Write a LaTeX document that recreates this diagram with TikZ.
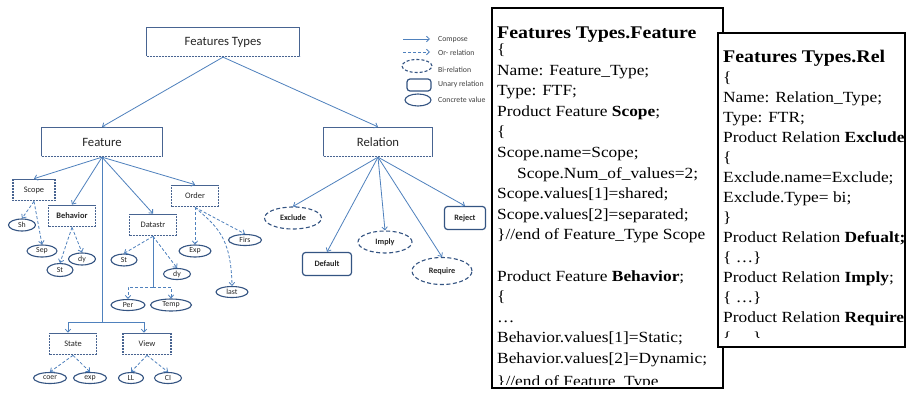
\documentclass[tikz,border=0pt]{standalone}
\usepackage{fontspec}
\setmainfont{Liberation Serif}
\newfontfamily\carl{Carlito}
\newfontfamily\tnr[FakeStretch=1.12]{Liberation Serif}
\usetikzlibrary{arrows.meta,shapes.geometric}
\definecolor{arr}{RGB}{79,129,189}
\definecolor{edge}{RGB}{52,84,130}
\definecolor{boxedge}{RGB}{72,100,145}
\begin{document}
\begin{tikzpicture}[x=1pt,y=-1pt,
  bigbox/.style={draw=boxedge, dash pattern=on 1.2pt off 0.3pt, line width=1.3pt, fill=white,
    minimum height=29pt, inner sep=0pt, font=\carl\fontsize{12.7}{14}\selectfont, text=black!85},
  smallbox/.style={draw=boxedge, dash pattern=on 1.2pt off 0.3pt, line width=1.2pt, fill=white,
    minimum height=21.5pt, inner sep=0pt, font=\carl\fontsize{8.4}{9}\selectfont, text=black!85},
  val/.style={ellipse, draw=edge, line width=1.1pt, fill=white, inner sep=0pt,
    font=\carl\fontsize{7.8}{8}\selectfont, text=black!85},
  bival/.style={ellipse, draw=edge, dash pattern=on 4pt off 2.5pt, line width=1.1pt, fill=white, inner sep=0pt,
    font=\carl\bfseries\fontsize{8.2}{9}\selectfont, text=black!85},
  unary/.style={rectangle, rounded corners=3pt, draw=edge, line width=1.2pt, fill=white, inner sep=0pt,
    font=\carl\bfseries\fontsize{8.2}{9}\selectfont, text=black!85},
  comp/.style={draw=arr, line width=0.8pt, -{Straight Barb[length=3pt,width=5.5pt]}},
  orrel/.style={comp, dash pattern=on 3pt off 2pt},
  plainline/.style={draw=arr, line width=0.8pt},
  legtext/.style={anchor=west, inner sep=0pt, font=\carl\fontsize{7.8}{8}\selectfont, text=black!75},
  code/.style={anchor=base west, inner sep=0pt, font=\tnr\fontsize{15.5}{18}\selectfont},
  codetitle/.style={anchor=base west, inner sep=0pt, font=\tnr\bfseries\fontsize{17.8}{20}\selectfont},
  frame/.style={draw=black, line width=1.5pt, fill=white}
]
\useasboundingbox (0,0) rectangle (915,396);
\fill[white] (0,0) rectangle (915,396);

% ---------------- tree ----------------
\node[bigbox, minimum width=153pt] (ft) at (223,42) {Features Types};
\node[bigbox, minimum width=121pt] (feat) at (102,142) {Feature};
\node[bigbox, minimum width=109pt] (rel) at (378,142) {Relation};

\node[smallbox, minimum width=42pt] (scope) at (34,190) {Scope};
\node[smallbox, minimum width=47pt] (order) at (195,196) {Order};
\node[smallbox, minimum width=47pt, font=\carl\bfseries\fontsize{8.4}{9}\selectfont] (behav) at (72,216) {Behavior};
\node[smallbox, minimum width=47pt] (datastr) at (153,225) {Datastr};
\node[smallbox, minimum width=47pt] (state) at (73,344) {State};
\node[smallbox, minimum width=48pt] (view) at (147,344) {View};

\node[val, minimum width=27pt, minimum height=12pt] (sh) at (22,225) {Sh};
\node[val, minimum width=30pt, minimum height=12pt] (sep) at (42,251) {Sep};
\node[val, minimum width=26pt, minimum height=13pt] (st1) at (60,270) {St};
\node[val, minimum width=27pt, minimum height=12pt] (dy1) at (82,259) {dy};
\node[val, minimum width=26pt, minimum height=12pt] (st2) at (124,260) {St};
\node[val, minimum width=27pt, minimum height=11pt] (dy2) at (177,274) {dy};
\node[val, minimum width=34pt, minimum height=11pt] (per) at (128,305) {Per};
\node[val, minimum width=41pt, minimum height=12pt] (temp) at (171,305) {Temp};
\node[val, minimum width=32pt, minimum height=12pt] (exp) at (195,251) {Exp};
\node[val, minimum width=33pt, minimum height=11pt] (firs) at (245,240) {Firs};
\node[val, minimum width=32pt, minimum height=11pt] (last) at (232,292) {last};
\node[val, minimum width=33pt, minimum height=11pt] (coer) at (50,378) {coer};
\node[val, minimum width=33pt, minimum height=11pt] (expb) at (90,378) {exp};
\node[val, minimum width=25pt, minimum height=11pt] (ll) at (131,378) {LL};
\node[val, minimum width=27pt, minimum height=11pt] (ci) at (168,378) {CI};

\node[bival, minimum width=57pt, minimum height=22pt] (exclude) at (293,218) {Exclude};
\node[unary, minimum width=41pt, minimum height=23pt] (reject) at (465,218) {Reject};
\node[bival, minimum width=54pt, minimum height=22pt] (imply) at (385,242) {Imply};
\node[unary, minimum width=49pt, minimum height=23pt] (default) at (327,264) {Default};
\node[bival, minimum width=60pt, minimum height=27pt] (require) at (442,271) {Require};

% connectors
\draw[comp] (ft.south) -- (feat.north);
\draw[comp] (ft.south) -- (rel.north);

\draw[comp] (feat.south) -- (scope.north);
\draw[comp] (feat.south) -- (behav.north);
\draw[comp] (feat.south) -- (datastr.north);
\draw[comp] (feat.south) -- (order.north);
\coordinate (fbus) at (102,322);
\draw[plainline] (feat.south) -- (fbus);
\draw[comp] (fbus) -| ([xshift=-5pt]state.north);
\draw[comp] (fbus) -| ([xshift=-3pt]view.north);

\draw[orrel] (scope.south) -- (sh.north);
\draw[orrel] (scope.south) -- (sep.north);
\draw[orrel] (behav.south) -- (st1.north);
\draw[orrel] (behav.south) -- (dy1.north);
\draw[orrel] (datastr.south) -- (st2.north);
\draw[orrel] (datastr.south) -- (dy2.north);
\coordinate (dbus) at (153,287);
\draw[plainline] (datastr.south) -- (dbus);
\draw[orrel] (dbus) -| (per.north);
\draw[orrel] (dbus) -| (temp.north);
\draw[orrel] (order.south) -- (exp.north);
\draw[orrel] (order.south) -- (firs.north);
\draw[orrel] (order.south) .. controls (216,226) and (231,236) .. (last.north);
\draw[orrel] (state.south) -- (coer.north);
\draw[orrel] (state.south) -- (expb.north);
\draw[orrel] (view.south) -- (ll.north);
\draw[orrel] (view.south) -- (ci.north);

\draw[comp] (rel.south) -- (exclude.north);
\draw[comp] (rel.south) -- (default.north);
\draw[comp] (rel.south) -- (imply.north);
\draw[comp] (rel.south) -- (require.north);
\draw[comp] (rel.south) -- (reject.north);

% ---------------- legend ----------------
\coordinate (lca) at (403,39); \coordinate (lcb) at (430,39);
\draw[comp] (lca) -- (lcb);
\coordinate (loa) at (403,52); \coordinate (lob) at (430,52);
\draw[orrel] (loa) -- (lob);
\node[bival, minimum width=30pt, minimum height=13pt, dash pattern=on 3pt off 2pt] (lbi) at (417,66) {};
\node[unary, minimum width=24pt, minimum height=12pt] (lun) at (419,85) {};
\node[val, minimum width=26pt, minimum height=12pt] (lcv) at (418,100) {};
\node[legtext] (tcomp) at (438,40) {Compose};
\node[legtext] (tor) at (438,53) {Or- relation};
\node[legtext] (tbi) at (438,70) {Bi-relation};
\node[legtext] (tun) at (438,84) {Unary relation};
\node[legtext] (tcv) at (438,100) {Concrete value};

% ---------------- code box 1 ----------------
\draw[frame] (492,8) rectangle (723,388);
\begin{scope}
\clip (492,8) rectangle (723,384);
\node[codetitle] (a0) at (497,38) {Features Types.Feature};
\node[code] (a1) at (497,54.4) {\{};
\node[code] (a2) at (497,75) {Name: Feature\_Type;};
\node[code] (a3) at (497,95.6) {Type: FTF;};
\node[code] (a4) at (497,116.2) {Product Feature \textbf{Scope};};
\node[code] (a5) at (497,136.8) {\{};
\node[code] (a6) at (497,157.4) {Scope.name=Scope;};
\node[code] (a7) at (517,178) {Scope.Num\_of\_values=2;};
\node[code] (a8) at (497,198.6) {Scope.values[1]=shared;};
\node[code] (a9) at (497,219.2) {Scope.values[2]=separated;};
\node[code] (a10) at (497,239.8) {\}//end of Feature\_Type Scope};
\node[code] (a11) at (497,281) {Product Feature \textbf{Behavior};};
\node[code] (a12) at (497,301.6) {\{};
\node[code] (a13) at (497,322.2) {…};
\node[code] (a14) at (497,342.8) {Behavior.values[1]=Static;};
\node[code] (a15) at (497,363.4) {Behavior.values[2]=Dynamic;};
\node[code] (a16) at (497,386) {\}//end of Feature\_Type};
\end{scope}

% ---------------- code box 2 ----------------
\draw[frame] (718,33) rectangle (905,347);
\begin{scope}
\clip (718,33) rectangle (905,337);
\node[codetitle] (b0) at (723,63) {Features Types.Rel};
\node[code] (b1) at (723,82) {\{};
\node[code] (b2) at (723,102) {Name: Relation\_Type;};
\node[code] (b3) at (723,122) {Type: FTR;};
\node[code] (b4) at (723,142) {Product Relation \textbf{Exclude}};
\node[code] (b5) at (723,162) {\{};
\node[code] (b6) at (723,182) {Exclude.name=Exclude;};
\node[code] (b7) at (723,202) {Exclude.Type= bi;};
\node[code] (b8) at (723,222) {\}};
\node[code] (b9) at (723,242) {Product Relation \textbf{Defualt;}};
\node[code] (b10) at (723,262) {\{ …\}};
\node[code] (b11) at (723,282) {Product Relation \textbf{Imply};};
\node[code] (b12) at (723,302) {\{ …\}};
\node[code] (b13) at (723,322) {Product Relation \textbf{Require}};
\node[code] (b14) at (723,342) {\{ …\}};
\end{scope}
\end{tikzpicture}
\end{document}
